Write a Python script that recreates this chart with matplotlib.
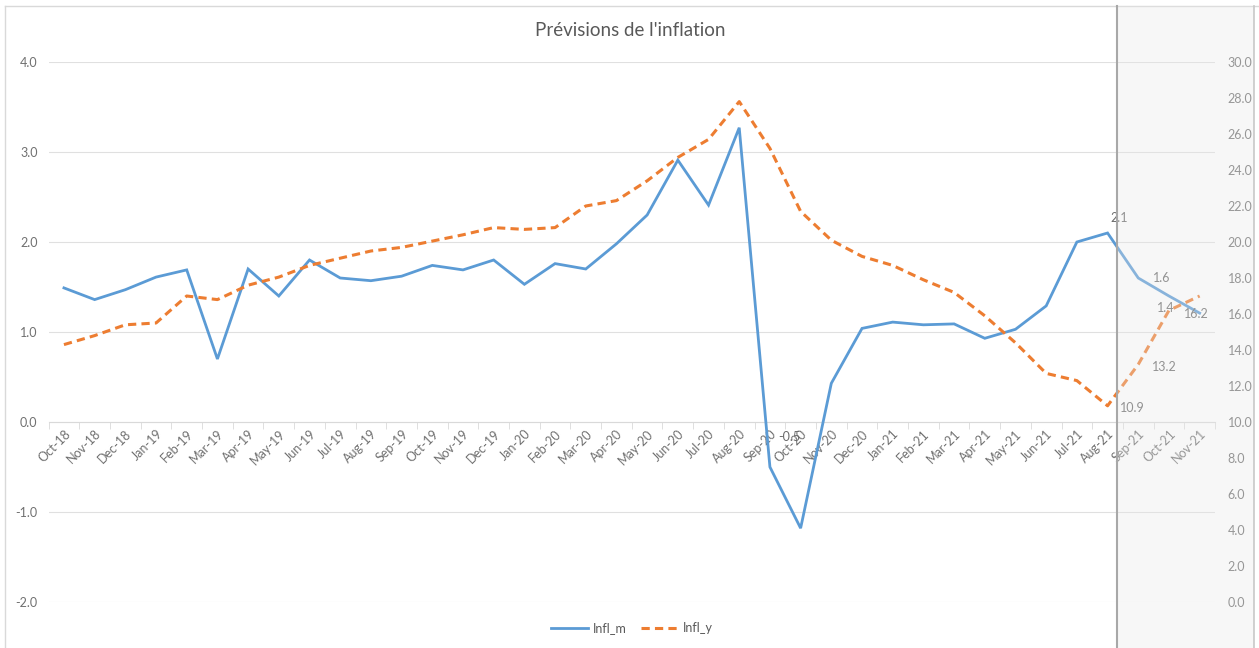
import matplotlib
matplotlib.use('Agg')
import matplotlib.pyplot as plt
from matplotlib.patches import Rectangle
from matplotlib.lines import Line2D
from matplotlib.ticker import FixedLocator, FormatStrFormatter

months = ['Oct-18', 'Nov-18', 'Dec-18', 'Jan-19', 'Feb-19', 'Mar-19', 'Apr-19', 'May-19',
          'Jun-19', 'Jul-19', 'Aug-19', 'Sep-19', 'Oct-19', 'Nov-19', 'Dec-19', 'Jan-20',
          'Feb-20', 'Mar-20', 'Apr-20', 'May-20', 'Jun-20', 'Jul-20', 'Aug-20', 'Sep-20',
          'Oct-20', 'Nov-20', 'Dec-20', 'Jan-21', 'Feb-21', 'Mar-21', 'Apr-21', 'May-21',
          'Jun-21', 'Jul-21', 'Aug-21', 'Sep-21', 'Oct-21', 'Nov-21']

infl_m = [1.49, 1.36, 1.47, 1.61, 1.69, 0.70, 1.70, 1.40, 1.80, 1.60, 1.57, 1.62,
          1.74, 1.69, 1.80, 1.53, 1.76, 1.70, 1.98, 2.30, 2.91, 2.41, 3.27, -0.5,
          -1.18, 0.43, 1.04, 1.11, 1.08, 1.09, 0.93, 1.03, 1.29, 2.00, 2.1, 1.6,
          1.4, 1.21]

infl_y = [14.3, 14.8, 15.4, 15.5, 17.0, 16.8, 17.6, 18.05, 18.7, 19.1, 19.5, 19.7,
          20.05, 20.4, 20.8, 20.7, 20.8, 22.0, 22.3, 23.4, 24.7, 25.7, 27.8, 25.2,
          21.7, 20.1, 19.2, 18.7, 17.9, 17.2, 15.9, 14.4, 12.7, 12.3, 10.9, 13.2,
          16.2, 17.0]

left_ticks = [-2.0, -1.0, 0.0, 1.0, 2.0, 3.0, 4.0]
right_ticks = [0, 2, 4, 6, 8, 10, 12, 14, 16, 18, 20, 22, 24, 26, 28, 30]

# data labels: (month index, offset x px, offset y px)
labels_m = [(23, 19, 30), (34, 12, 15), (35, 23, 0), (36, -3, -12)]
labels_y = [(34, 25, -2), (35, 26, -3), (36, 27, -4)]

W, H = 1259, 648
plt.rcParams['font.family'] = ['Lato', 'DejaVu Sans']
TXT = '#707070'
BLUE = '#5b9bd5'
ORANGE = '#ed7d31'

fig = plt.figure(figsize=(W / 100, H / 100), dpi=100)
x0, x1, ytop, ybot = 48.6, 1215, 62, 602
ax = fig.add_axes([x0 / W, (H - ybot) / H, (x1 - x0) / W, (ybot - ytop) / H])
ax2 = ax.twinx()

xs = list(range(len(months)))
ax.plot(xs, infl_m, color=BLUE, lw=2.0, solid_joinstyle='miter', zorder=3)
ax2.plot(xs, infl_y, color=ORANGE, lw=2.2, dashes=(2.7, 1.7), zorder=3)

ax.set_xlim(-0.5, len(months) - 0.5)
ax.set_ylim(-2, 4)
ax2.set_ylim(0, 30)

ax.yaxis.set_major_locator(FixedLocator(left_ticks))
ax.yaxis.set_major_formatter(FormatStrFormatter('%.1f'))
ax2.yaxis.set_major_locator(FixedLocator(right_ticks))
ax2.yaxis.set_major_formatter(FormatStrFormatter('%.1f'))
ax.grid(axis='y', color='#e0e0e0', lw=0.8, zorder=0)
ax.set_axisbelow(True)

for a in (ax, ax2):
    for s in ('top', 'left', 'right', 'bottom'):
        a.spines[s].set_visible(False)
ax.spines['bottom'].set_visible(True)
ax.spines['bottom'].set_position(('data', 0))
ax.spines['bottom'].set_color('#d9d9d9')
ax.spines['bottom'].set_linewidth(0.8)

ax.tick_params(axis='y', length=0, pad=8, labelsize=9, labelcolor=TXT)
ax2.tick_params(axis='y', length=0, pad=9, labelsize=9, labelcolor=TXT)

ax.set_xticks(xs)
ax.set_xticklabels(months, rotation=45, ha='right', va='top', rotation_mode='anchor',
                   fontsize=9, color=TXT)
ax.tick_params(axis='x', which='major', length=0, pad=4)
ax.set_xticks([i - 0.5 for i in range(len(months) + 1)], minor=True)
ax.tick_params(axis='x', which='minor', length=5, color='#d9d9d9', direction='out')

for i, dx, dy in labels_m:
    ax.annotate(f"{infl_m[i]:.1f}", (xs[i], infl_m[i]), xytext=(dx * 0.72, dy * 0.72),
                textcoords='offset points', ha='center', va='center', fontsize=9,
                color='#6a6a6a', zorder=5)
for i, dx, dy in labels_y:
    ax2.annotate(f"{infl_y[i]:.1f}", (xs[i], infl_y[i]), xytext=(dx * 0.72, dy * 0.72),
                 textcoords='offset points', ha='center', va='center', fontsize=9,
                 color='#6a6a6a', zorder=5)

fig.text(630 / W, (H - 31) / H, "Prévisions de l'inflation", ha='center', va='center',
         fontsize=13.5, color='#595959')

handles = [Line2D([], [], color=BLUE, lw=2.0),
           Line2D([], [], color=ORANGE, lw=2.2, dashes=(2.7, 1.7))]
fig.legend(handles, ['Infl_m', 'Infl_y'], loc='center', bbox_to_anchor=(632 / W, 20 / H),
           ncol=2, frameon=False, fontsize=9, handlelength=2.9, handletextpad=0.4,
           columnspacing=1.2, labelcolor='#595959')

# chart border
fig.add_artist(Line2D([4.5 / W, 4.5 / W], [0, (H - 6) / H], transform=fig.transFigure,
                      color='#d9d9d9', lw=1))
fig.add_artist(Line2D([4.5 / W, 1], [(H - 6) / H, (H - 6) / H], transform=fig.transFigure,
                      color='#d9d9d9', lw=1))

# forecast shading overlay
fig.add_artist(Rectangle((1117 / W, 0), (1254 - 1117) / W, (H - 6) / H,
                         transform=fig.transFigure, facecolor='#e8e8e8', alpha=0.32,
                         edgecolor='none', zorder=20))
fig.add_artist(Line2D([1117 / W, 1117 / W], [0, (H - 6) / H], transform=fig.transFigure,
                      color='#a8a8a8', lw=1.5, zorder=21))
fig.add_artist(Line2D([1254 / W, 1254 / W], [0, (H - 6) / H], transform=fig.transFigure,
                      color='#c8c8c8', lw=1.2, zorder=21))

fig.savefig('out.png', dpi=100)
